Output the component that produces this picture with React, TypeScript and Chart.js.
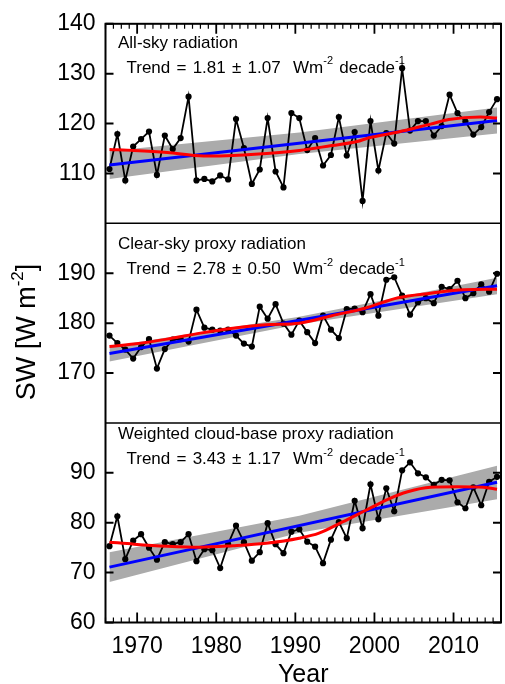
import React, { useEffect, useRef } from 'react';
import { Chart, registerables } from 'chart.js';

Chart.register(...registerables);

// ---------- data ----------
const years = [
  1966, 1967, 1968, 1969, 1970, 1971, 1972, 1973, 1974, 1975,
  1976, 1977, 1978, 1979, 1980, 1981, 1982, 1983, 1984, 1985,
  1986, 1987, 1988, 1989, 1990, 1991, 1992, 1993, 1994, 1995,
  1996, 1997, 1998, 1999, 2000, 2001, 2002, 2003, 2004, 2005,
  2006, 2007, 2008, 2009, 2010, 2011, 2012, 2013, 2014, 2015,
];
// annual means are plotted at mid-year
const MID = 0.5;

const allSky = [
  110.9, 117.9, 108.6, 115.4, 116.9, 118.4, 109.7, 117.6, 114.9, 117.1,
  125.4, 108.6, 108.9, 108.4, 109.6, 108.8, 120.9, 115.1, 107.9, 110.8,
  121.1, 110.4, 107.2, 122.1, 121.1, 114.7, 117.1, 111.6, 113.7, 121.3,
  113.6, 118.3, 104.5, 120.5, 110.6, 118.1, 116.0, 131.1, 118.6, 120.5,
  120.5, 117.6, 119.5, 125.8, 122.1, 120.4, 117.8, 119.3, 122.3, 124.9,
];
const clearSky = [
  177.5, 176.0, 174.7, 172.9, 175.2, 176.8, 170.9, 174.8, 176.7, 176.8,
  176.3, 182.7, 179.1, 178.7, 178.5, 178.7, 177.5, 175.9, 175.3, 183.3,
  180.9, 183.8, 179.9, 177.7, 180.5, 178.2, 176.0, 181.5, 178.7, 177.0,
  182.8, 182.9, 182.2, 185.8, 181.5, 188.7, 189.2, 185.5, 181.7, 184.2,
  185.0, 184.0, 187.3, 186.8, 188.5, 185.0, 186.0, 187.8, 186.3, 189.9,
];
const cloudBase = [
  75.3, 81.3, 72.7, 76.4, 77.7, 75.0, 72.6, 76.1, 75.7, 76.1,
  77.7, 72.3, 74.7, 74.5, 70.9, 75.7, 79.4, 76.1, 72.4, 74.1,
  79.9, 75.7, 73.9, 78.2, 78.7, 76.2, 75.2, 71.9, 76.6, 80.1,
  76.9, 84.4, 78.9, 87.7, 80.7, 86.9, 82.3, 90.5, 92.1, 89.9,
  89.1, 87.6, 88.6, 88.5, 84.1, 82.9, 87.1, 83.5, 88.2, 89.2,
];

// linear trends (start / end of record)
const trendYears = [1966, 2015];
const allSkyTrend = [111.7, 120.6];
const clearSkyTrend = [173.9, 187.5];
const cloudBaseTrend = [71.1, 88.1];

// uncertainty band of the trend
const bandYears = [1966, 1990, 2015];
const allSkyBandLo = [108.9, 113.9, 118.0];
const allSkyBandHi = [114.5, 118.2, 123.2];
const clearSkyBandLo = [172.3, 179.8, 185.8];
const clearSkyBandHi = [175.3, 181.3, 189.1];
const cloudBaseBandLo = [68.1, 78.0, 84.7];
const cloudBaseBandHi = [74.1, 81.4, 91.4];

// smoothed curves
const allSkySmoothYears = [1966.0, 1969.1, 1973.3, 1977.9, 1981.6, 1987.5, 1990.0, 1994.1, 1997.3, 1998.7, 2002.5, 2006.6, 2008.9, 2012.9, 2015.0];
const allSkySmooth = [114.8, 114.6, 114.2, 113.5, 113.6, 114.2, 114.6, 115.6, 116.4, 117.1, 118.3, 119.9, 120.8, 121.3, 121.1];
const clearSkySmoothYears = [1966.0, 1969.1, 1973.3, 1977.5, 1981.6, 1985.8, 1990.0, 1994.1, 1998.3, 2002.5, 2006.6, 2010.8, 2015.0];
const clearSkySmooth = [175.3, 175.8, 176.8, 178.0, 179.0, 179.7, 180.0, 181.5, 183.0, 185.1, 186.0, 186.7, 186.8];
const cloudBaseSmoothYears = [1966.0, 1969.1, 1973.3, 1977.5, 1981.6, 1985.8, 1990.0, 1992.5, 1995.4, 1998.3, 2001.2, 2003.7, 2006.6, 2010.0, 2013.3, 2015.0];
const cloudBaseSmooth = [76.1, 75.7, 75.3, 75.1, 75.4, 75.9, 76.9, 77.9, 80.1, 82.4, 84.7, 86.2, 87.1, 87.2, 87.1, 86.7];

// axes
const xMin = 1966;
const xMax = 2016;
const xTicks = [1970, 1980, 1990, 2000, 2010];
const y1Range = [100, 140];
const y2Range = [160, 200];
const y3Range = [60, 100];
const y1Ticks = [110, 120, 130, 140];
const y2Ticks = [170, 180, 190];
const y3Ticks = [60, 70, 80, 90];

const panelTitles = ['All-sky radiation', 'Clear-sky proxy radiation', 'Weighted cloud-base proxy radiation'];
const panelTrends = [
  ['1.81', '1.07'],
  ['2.78', '0.50'],
  ['3.43', '1.17'],
];

// ---------- helpers ----------
const FONT = 'Liberation Sans, Arial, Helvetica, sans-serif';
const toXY = (xs: number[], ys: number[]) => xs.map((x, i) => ({ x: x + MID, y: ys[i] }));

type Seg = { t: string; sup?: boolean };

function drawSegs(ctx: CanvasRenderingContext2D, segs: Seg[], x: number, y: number, size: number, supSize: number, raise: number, measureOnly = false) {
  let cx = x;
  for (const s of segs) {
    ctx.font = `${s.sup ? supSize : size}px ${FONT}`;
    const w = ctx.measureText(s.t).width;
    if (!measureOnly) ctx.fillText(s.t, cx, s.sup ? y - raise : y);
    cx += w;
  }
  return cx - x;
}

function buildDatasets() {
  const panels = [
    { id: 'y1', data: allSky, trend: allSkyTrend, lo: allSkyBandLo, hi: allSkyBandHi, sx: allSkySmoothYears, sy: allSkySmooth },
    { id: 'y2', data: clearSky, trend: clearSkyTrend, lo: clearSkyBandLo, hi: clearSkyBandHi, sx: clearSkySmoothYears, sy: clearSkySmooth },
    { id: 'y3', data: cloudBase, trend: cloudBaseTrend, lo: cloudBaseBandLo, hi: cloudBaseBandHi, sx: cloudBaseSmoothYears, sy: cloudBaseSmooth },
  ];
  const ds: any[] = [];
  for (const p of panels) {
    const loIdx = ds.length;
    ds.push({
      data: toXY(bandYears, p.lo), yAxisID: p.id, borderWidth: 0, pointRadius: 0,
      fill: false, order: 5, borderColor: 'rgba(0,0,0,0)',
    });
    ds.push({
      data: toXY(bandYears, p.hi), yAxisID: p.id, borderWidth: 0, pointRadius: 0,
      fill: { target: loIdx }, backgroundColor: '#ababab', order: 5, borderColor: 'rgba(0,0,0,0)',
    });
    ds.push({
      data: toXY(years, p.data), yAxisID: p.id, borderColor: '#000', borderWidth: 1.8,
      pointRadius: 3.1, pointBackgroundColor: '#000', pointBorderWidth: 0, fill: false, order: 3, tension: 0,
    });
    ds.push({
      data: toXY(trendYears, p.trend), yAxisID: p.id, borderColor: '#0000ff', borderWidth: 3,
      pointRadius: 0, fill: false, order: 2,
    });
    ds.push({
      data: toXY(p.sx, p.sy), yAxisID: p.id, borderColor: '#ff0000', borderWidth: 3,
      pointRadius: 0, fill: false, order: 1, cubicInterpolationMode: 'monotone',
    });
  }
  return ds;
}

const yScale = (range: number[], ticks: number[]) => ({
  type: 'linear',
  position: 'left',
  stack: 'panels',
  stackWeight: 1,
  min: range[0],
  max: range[1],
  grid: { display: false, drawTicks: false },
  border: { display: false },
  ticks: { color: '#000', font: { family: FONT, size: 23 }, padding: 10, callback: (v: any) => String(v) },
  afterBuildTicks: (s: any) => { s.ticks = ticks.map((v) => ({ value: v })); },
  afterFit: (s: any) => { s.width = 105.5; },
});

const framePlugin = {
  id: 'frame',
  afterDatasetsDraw(chart: any) {
    const ctx = chart.ctx as CanvasRenderingContext2D;
    const a = chart.chartArea;
    const sx = chart.scales.x;
    ctx.save();
    ctx.strokeStyle = '#000';
    ctx.lineWidth = 2;
    ctx.strokeRect(a.left, a.top, a.right - a.left, a.bottom - a.top);
    // panel separators
    ctx.lineWidth = 1.5;
    for (const id of ['y1', 'y2']) {
      const s = chart.scales[id];
      ctx.beginPath();
      ctx.moveTo(a.left, s.bottom);
      ctx.lineTo(a.right, s.bottom);
      ctx.stroke();
    }
    // y ticks (inward, both sides)
    const yt: [string, number[]][] = [['y1', y1Ticks], ['y2', y2Ticks], ['y3', y3Ticks]];
    ctx.lineWidth = 2;
    for (const [id, tk] of yt) {
      const s = chart.scales[id];
      for (const v of tk) {
        const p = s.getPixelForValue(v);
        ctx.beginPath();
        ctx.moveTo(a.left, p); ctx.lineTo(a.left + 8, p);
        ctx.moveTo(a.right, p); ctx.lineTo(a.right - 8, p);
        ctx.stroke();
      }
    }
    // x ticks (top of first panel, bottom of last panel)
    for (let yr = xMin; yr <= xMax; yr++) {
      const p = sx.getPixelForValue(yr);
      const major = xTicks.includes(yr);
      const len = major ? 10 : 5;
      ctx.lineWidth = major ? 1.8 : 1.2;
      ctx.beginPath();
      ctx.moveTo(p, a.bottom); ctx.lineTo(p, a.bottom - len);
      ctx.moveTo(p, a.top); ctx.lineTo(p, a.top + len);
      ctx.stroke();
    }
    ctx.restore();
  },
  afterDraw(chart: any) {
    const ctx = chart.ctx as CanvasRenderingContext2D;
    const a = chart.chartArea;
    ctx.save();
    ctx.fillStyle = '#000';
    ctx.textBaseline = 'alphabetic';
    ctx.textAlign = 'left';
    const ids = ['y1', 'y2', 'y3'];
    const titleDy = [24.5, 25.3, 16.3];
    const trendDy = [49, 51, 41.5];
    ids.forEach((id, i) => {
      const s = chart.scales[id];
      ctx.font = `17px ${FONT}`;
      (ctx as any).wordSpacing = '0px';
      ctx.fillText(panelTitles[i], a.left + 12.5, s.top + titleDy[i]);
      (ctx as any).wordSpacing = '1.5px';
      const [tr, err] = panelTrends[i];
      drawSegs(ctx, [
        { t: `Trend = ${tr} \u00b1 ${err}  Wm` },
        { t: '-2', sup: true },
        { t: ' decade' },
        { t: '-1', sup: true },
      ], a.left + 21, s.top + trendDy[i], 17, 11, 8.5);
      (ctx as any).wordSpacing = '0px';
    });
    // x title
    ctx.font = `25px ${FONT}`;
    ctx.textAlign = 'center';
    ctx.fillText('Year', (a.left + a.right) / 2, 682);
    // y title (rotated)
    ctx.textAlign = 'left';
    const segs: Seg[] = [{ t: 'SW [W m' }, { t: '-2', sup: true }, { t: ']' }];
    const w = drawSegs(ctx, segs, 0, 0, 27, 17, 12, true);
    ctx.translate(35, 332);
    ctx.rotate(-Math.PI / 2);
    drawSegs(ctx, segs, -w / 2, 0, 27, 17, 12);
    ctx.restore();
  },
};

export default function App() {
  const ref = useRef<HTMLCanvasElement>(null);
  useEffect(() => {
    const canvas = ref.current!;
    const chart = new Chart(canvas, {
      type: 'line',
      data: { datasets: buildDatasets() },
      options: {
        responsive: false,
        animation: false,
        events: [],
        layout: { padding: { top: 18, right: 3, bottom: 0, left: 0 } },
        plugins: { legend: { display: false }, tooltip: { enabled: false }, title: { display: false } },
        scales: {
          x: {
            type: 'linear',
            position: 'bottom',
            min: xMin,
            max: xMax,
            grid: { display: false, drawTicks: false },
            border: { display: false },
            ticks: {
              color: '#000', font: { family: FONT, size: 23 }, padding: 10, maxRotation: 0, autoSkip: false,
              callback: (v: any) => String(v),
            },
            afterBuildTicks: (s: any) => { s.ticks = xTicks.map((v) => ({ value: v })); },
            afterFit: (s: any) => { s.height = 61.5; },
          },
          y3: yScale(y3Range, y3Ticks),
          y2: yScale(y2Range, y2Ticks),
          y1: yScale(y1Range, y1Ticks),
        } as any,
      },
      plugins: [framePlugin],
    } as any);
    return () => chart.destroy();
  }, []);
  return (
    <div style={{ position: 'fixed', left: 0, top: 0, width: 505, height: 684, background: '#fff' }}>
      <canvas ref={ref} width={505} height={684} style={{ display: 'block', width: 505, height: 684 }} />
    </div>
  );
}
